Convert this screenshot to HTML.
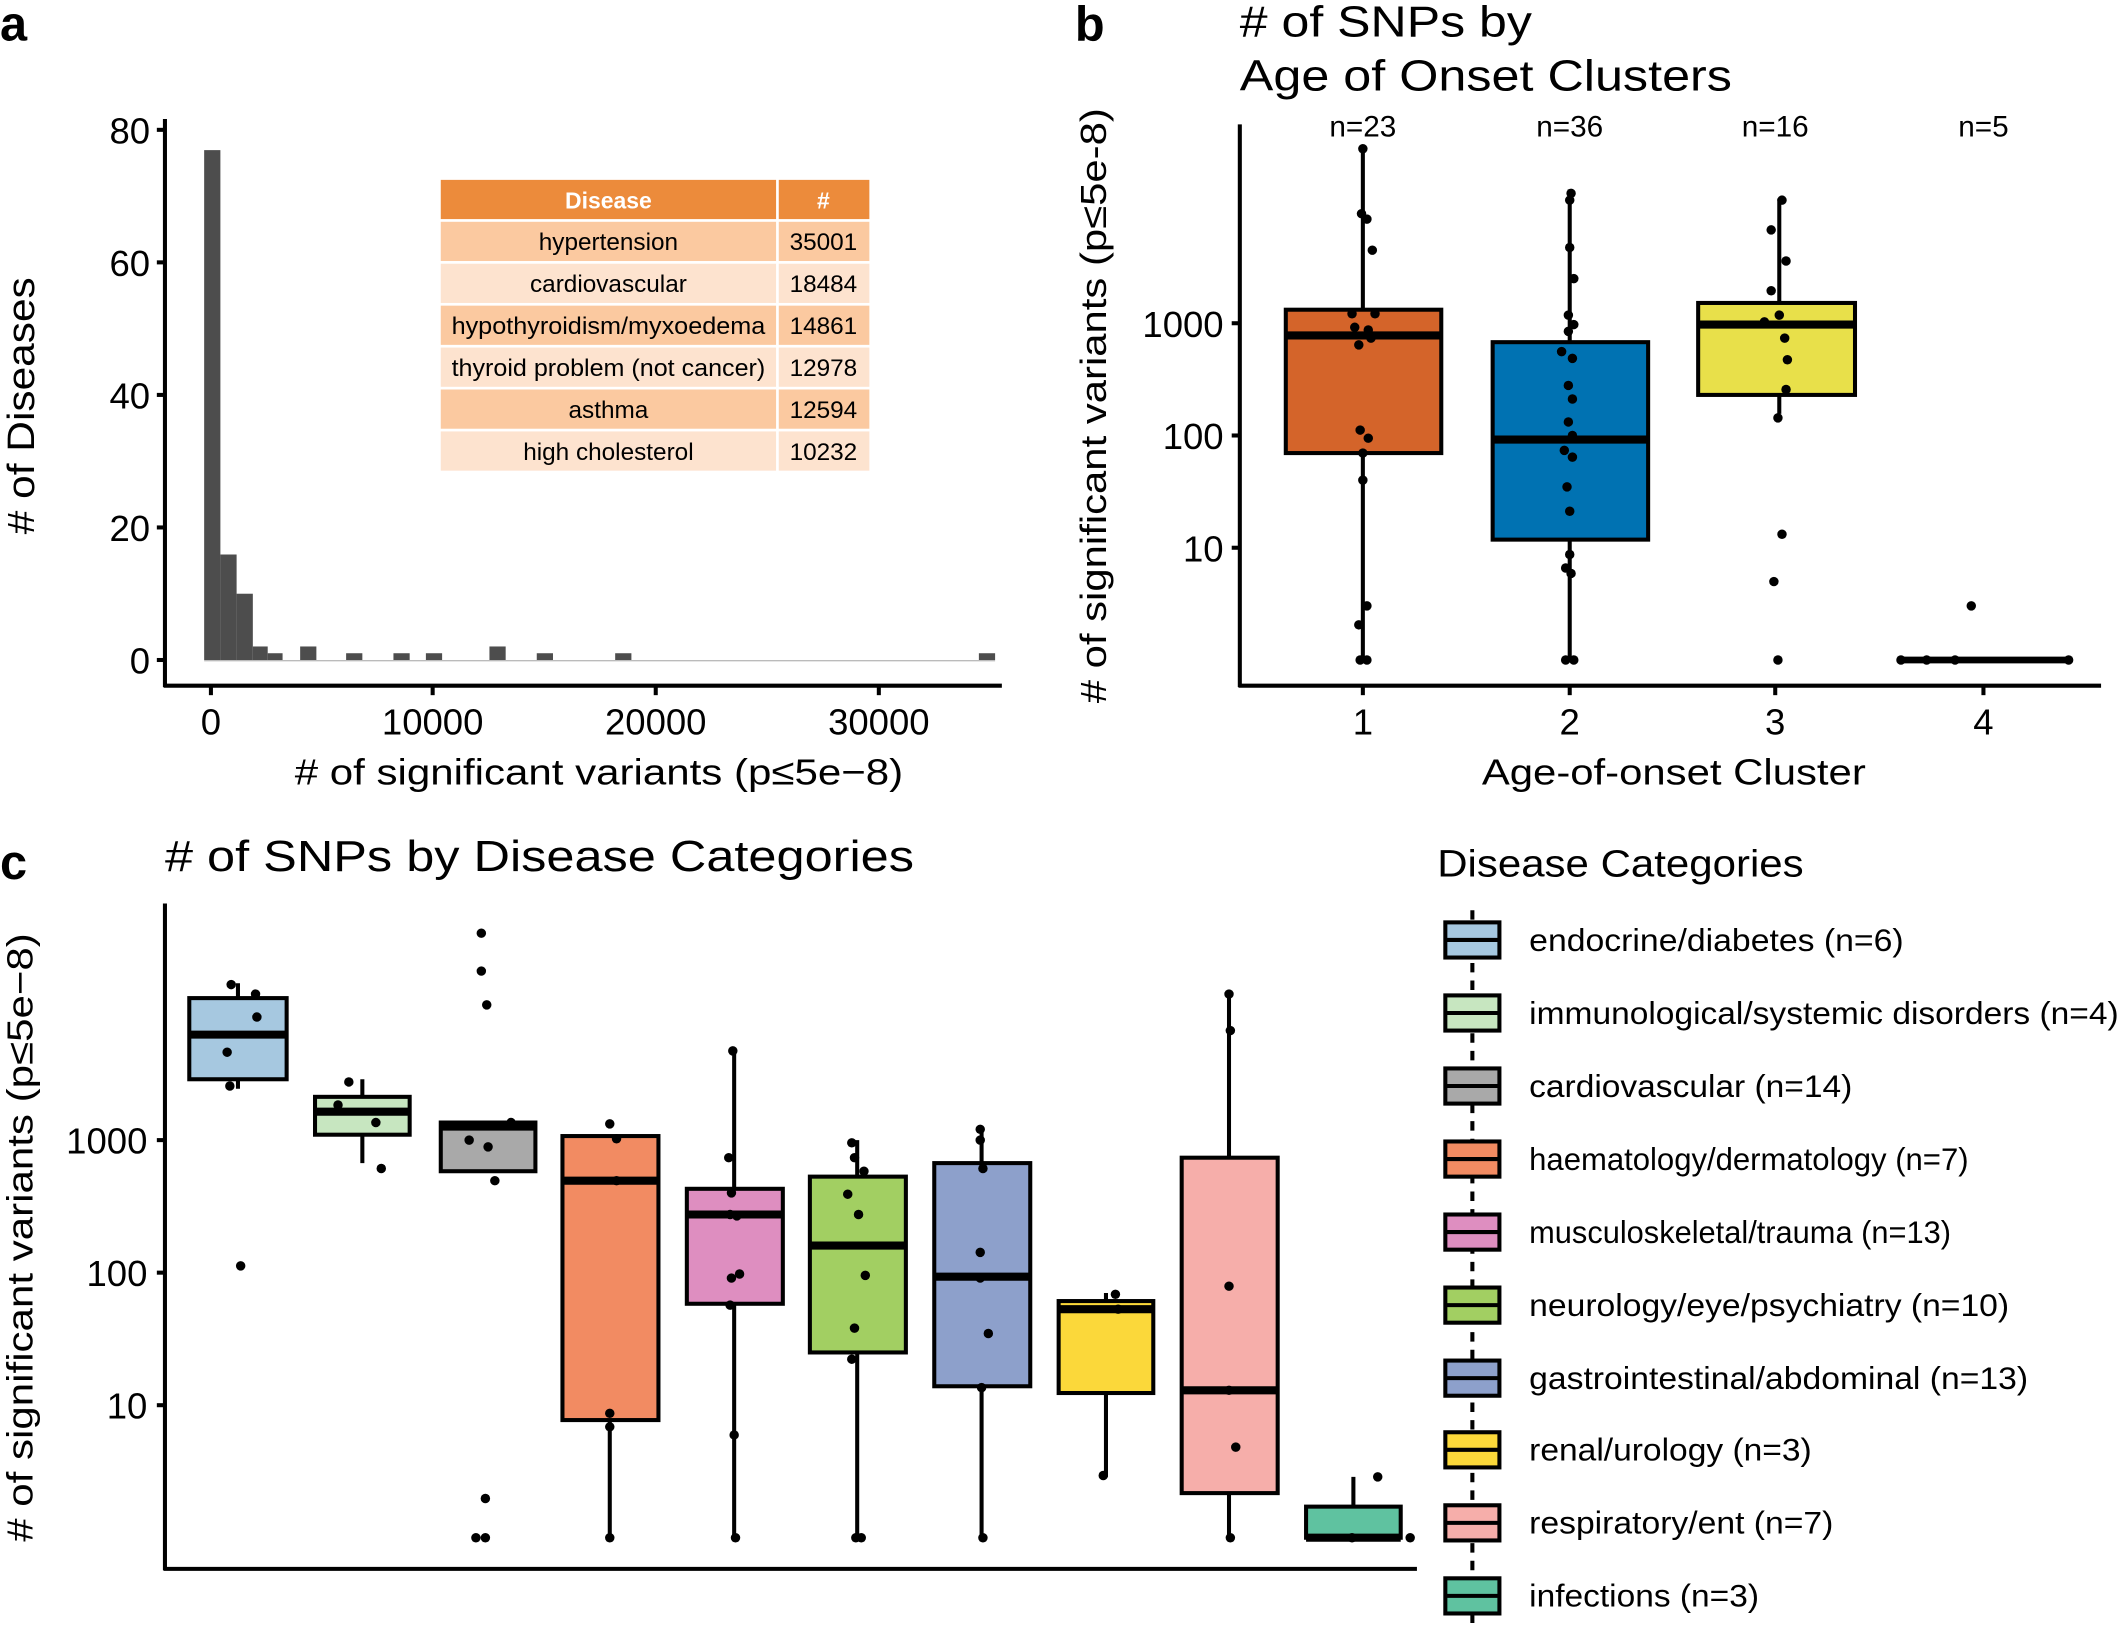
<!DOCTYPE html>
<html><head><meta charset="utf-8"><style>
html,body{margin:0;padding:0;background:#fff;}
svg{display:block;}
text{font-family:"Liberation Sans",sans-serif;fill:#000;}
</style></head><body>
<svg width="2120" height="1627" viewBox="0 0 1568 1203" preserveAspectRatio="none" xmlns="http://www.w3.org/2000/svg">
<rect width="1568" height="1203" fill="#fff"/>
<text x="0" y="30" font-size="36" font-weight="bold">a</text>
<text x="795" y="30" font-size="36" font-weight="bold">b</text>
<text x="0" y="650" font-size="36" font-weight="bold">c</text>

<!-- ===== Panel a ===== -->
<g fill="#4d4d4d">
<rect x="151" y="111" width="12" height="377"/>
<rect x="163" y="410" width="12" height="78"/>
<rect x="175" y="439" width="12" height="49"/>
<rect x="187" y="478" width="11" height="10"/>
<rect x="198" y="483" width="11" height="5"/>
<rect x="222" y="478" width="12" height="10"/>
<rect x="256" y="483" width="12" height="5"/>
<rect x="291" y="483" width="12" height="5"/>
<rect x="315" y="483" width="12" height="5"/>
<rect x="362" y="478" width="12" height="10"/>
<rect x="397" y="483" width="12" height="5"/>
<rect x="455" y="483" width="12" height="5"/>
<rect x="724" y="483" width="12" height="5"/>
</g>
<line x1="151" y1="488.5" x2="736" y2="488.5" stroke="#bbb" stroke-width="1"/>
<g stroke="#000" stroke-width="3" fill="none">
<line x1="122" y1="88" x2="122" y2="508"/>
<line x1="121" y1="507" x2="741" y2="507"/>
<line x1="116" y1="96" x2="122" y2="96"/>
<line x1="116" y1="194" x2="122" y2="194"/>
<line x1="116" y1="292" x2="122" y2="292"/>
<line x1="116" y1="390" x2="122" y2="390"/>
<line x1="116" y1="488" x2="122" y2="488"/>
<line x1="156" y1="507" x2="156" y2="514"/>
<line x1="320" y1="507" x2="320" y2="514"/>
<line x1="485" y1="507" x2="485" y2="514"/>
<line x1="650" y1="507" x2="650" y2="514"/>
</g>
<g font-size="27" text-anchor="end">
<text x="111" y="106">80</text><text x="111" y="204">60</text><text x="111" y="302">40</text><text x="111" y="400">20</text><text x="111" y="498">0</text>
</g>
<g font-size="27" text-anchor="middle">
<text x="156" y="543">0</text><text x="320" y="543">10000</text><text x="485" y="543">20000</text><text x="650" y="543">30000</text>
</g>
<text x="218" y="580" font-size="27" textLength="450" lengthAdjust="spacingAndGlyphs"># of significant variants (p≤5e−8)</text>
<text transform="translate(25,395) rotate(-90)" font-size="28" textLength="190" lengthAdjust="spacingAndGlyphs"># of Diseases</text>
<!-- table -->
<rect x="326" y="133" width="248" height="29" fill="#ec8b3b"/>
<rect x="576" y="133" width="67" height="29" fill="#ec8b3b"/>
<g font-size="17" text-anchor="middle">
<text x="450" y="154" style="fill:#fff" font-weight="bold">Disease</text>
<text x="609" y="154" style="fill:#fff" font-weight="bold">#</text>
</g>
<g>
<rect x="326" y="164" width="248" height="29" fill="#fbc9a0"/><rect x="576" y="164" width="67" height="29" fill="#fbc9a0"/>
<rect x="326" y="195" width="248" height="29" fill="#fde3cf"/><rect x="576" y="195" width="67" height="29" fill="#fde3cf"/>
<rect x="326" y="226" width="248" height="29" fill="#fbc9a0"/><rect x="576" y="226" width="67" height="29" fill="#fbc9a0"/>
<rect x="326" y="257" width="248" height="29" fill="#fde3cf"/><rect x="576" y="257" width="67" height="29" fill="#fde3cf"/>
<rect x="326" y="288" width="248" height="29" fill="#fbc9a0"/><rect x="576" y="288" width="67" height="29" fill="#fbc9a0"/>
<rect x="326" y="319" width="248" height="29" fill="#fde3cf"/><rect x="576" y="319" width="67" height="29" fill="#fde3cf"/>
</g>
<g font-size="18" text-anchor="middle">
<text x="450" y="185">hypertension</text><text x="609" y="185">35001</text>
<text x="450" y="216">cardiovascular</text><text x="609" y="216">18484</text>
<text x="450" y="247" textLength="232" lengthAdjust="spacingAndGlyphs">hypothyroidism/myxoedema</text><text x="609" y="247">14861</text>
<text x="450" y="278" textLength="232" lengthAdjust="spacingAndGlyphs">thyroid problem (not cancer)</text><text x="609" y="278">12978</text>
<text x="450" y="309">asthma</text><text x="609" y="309">12594</text>
<text x="450" y="340">high cholesterol</text><text x="609" y="340">10232</text>
</g>

<!-- ===== Panel b ===== -->
<text x="917" y="27" font-size="32" textLength="216" lengthAdjust="spacingAndGlyphs"># of SNPs by</text>
<text x="917" y="67" font-size="32" textLength="364" lengthAdjust="spacingAndGlyphs">Age of Onset Clusters</text>
<g font-size="22" text-anchor="middle">
<text x="1008" y="101">n=23</text><text x="1161" y="101">n=36</text><text x="1313" y="101">n=16</text><text x="1467" y="101">n=5</text>
</g>
<g stroke="#000" stroke-width="3">
<line x1="1008" y1="107" x2="1008" y2="488"/>
<line x1="1161" y1="140" x2="1161" y2="488"/>
<line x1="1316" y1="147" x2="1316" y2="306"/>
<rect x="951" y="229" width="115" height="106" fill="#d4642a"/>
<rect x="1104" y="253" width="115" height="146" fill="#0072b2"/>
<rect x="1256" y="224" width="116" height="68" fill="#e8e04a"/>
<line x1="951" y1="248" x2="1066" y2="248" stroke-width="6"/>
<line x1="1104" y1="325" x2="1219" y2="325" stroke-width="6"/>
<line x1="1256" y1="240" x2="1372" y2="240" stroke-width="6"/>
<line x1="1406" y1="488" x2="1530" y2="488" stroke-width="5"/>
</g>
<g fill="#000">
<circle cx="1008" cy="110" r="3.5"/><circle cx="1007" cy="158" r="3.5"/><circle cx="1011" cy="162" r="3.5"/><circle cx="1015" cy="185" r="3.5"/>
<circle cx="1000" cy="232" r="3.5"/><circle cx="1017" cy="232" r="3.5"/><circle cx="1002" cy="242" r="3.5"/><circle cx="1012" cy="244" r="3.5"/><circle cx="1005" cy="255" r="3.5"/><circle cx="1014" cy="250" r="3.5"/>
<circle cx="1006" cy="318" r="3.5"/><circle cx="1012" cy="324" r="3.5"/><circle cx="1008" cy="335" r="3.5"/><circle cx="1008" cy="355" r="3.5"/><circle cx="1011" cy="448" r="3.5"/><circle cx="1005" cy="462" r="3.5"/><circle cx="1006" cy="488" r="3.5"/><circle cx="1011" cy="488" r="3.5"/>
<circle cx="1162" cy="143" r="3.5"/><circle cx="1161" cy="148" r="3.5"/><circle cx="1161" cy="183" r="3.5"/><circle cx="1164" cy="206" r="3.5"/><circle cx="1160" cy="233" r="3.5"/><circle cx="1164" cy="240" r="3.5"/><circle cx="1160" cy="245" r="3.5"/>
<circle cx="1155" cy="260" r="3.5"/><circle cx="1163" cy="265" r="3.5"/><circle cx="1160" cy="285" r="3.5"/><circle cx="1163" cy="295" r="3.5"/><circle cx="1160" cy="312" r="3.5"/><circle cx="1163" cy="322" r="3.5"/><circle cx="1157" cy="333" r="3.5"/><circle cx="1163" cy="338" r="3.5"/><circle cx="1159" cy="360" r="3.5"/><circle cx="1161" cy="378" r="3.5"/><circle cx="1161" cy="410" r="3.5"/><circle cx="1158" cy="420" r="3.5"/><circle cx="1162" cy="424" r="3.5"/><circle cx="1158" cy="488" r="3.5"/><circle cx="1164" cy="488" r="3.5"/>
<circle cx="1318" cy="148" r="3.5"/><circle cx="1310" cy="170" r="3.5"/><circle cx="1321" cy="193" r="3.5"/><circle cx="1310" cy="215" r="3.5"/><circle cx="1316" cy="233" r="3.5"/><circle cx="1305" cy="238" r="3.5"/><circle cx="1320" cy="250" r="3.5"/><circle cx="1322" cy="266" r="3.5"/><circle cx="1321" cy="288" r="3.5"/><circle cx="1315" cy="309" r="3.5"/><circle cx="1318" cy="395" r="3.5"/><circle cx="1312" cy="430" r="3.5"/><circle cx="1315" cy="488" r="3.5"/>
<circle cx="1458" cy="448" r="3.5"/><circle cx="1406" cy="488" r="3.5"/><circle cx="1530" cy="488" r="3.5"/><circle cx="1425" cy="488" r="3.5"/><circle cx="1446" cy="488" r="3.5"/>
</g>
<g stroke="#000" stroke-width="3" fill="none">
<line x1="917" y1="92" x2="917" y2="508"/>
<line x1="916" y1="507" x2="1554" y2="507"/>
<line x1="911" y1="239" x2="917" y2="239"/><line x1="911" y1="322" x2="917" y2="322"/><line x1="911" y1="405" x2="917" y2="405"/>
<line x1="1008" y1="507" x2="1008" y2="514"/><line x1="1161" y1="507" x2="1161" y2="514"/><line x1="1313" y1="507" x2="1313" y2="514"/><line x1="1467" y1="507" x2="1467" y2="514"/>
</g>
<g font-size="27" text-anchor="end">
<text x="905" y="249">1000</text><text x="905" y="332">100</text><text x="905" y="415">10</text>
</g>
<g font-size="27" text-anchor="middle">
<text x="1008" y="543">1</text><text x="1161" y="543">2</text><text x="1313" y="543">3</text><text x="1467" y="543">4</text>
</g>
<text x="1096" y="580" font-size="27" textLength="284" lengthAdjust="spacingAndGlyphs">Age-of-onset Cluster</text>
<text transform="translate(818,520) rotate(-90)" font-size="27" textLength="440" lengthAdjust="spacingAndGlyphs"># of significant variants (p≤5e-8)</text>

<!-- ===== Panel c ===== -->
<text x="122" y="644" font-size="32" textLength="554" lengthAdjust="spacingAndGlyphs"># of SNPs by Disease Categories</text>
<g stroke="#000" stroke-width="3">
<line x1="176" y1="727" x2="176" y2="805"/>
<line x1="268" y1="798" x2="268" y2="860"/>
<line x1="451" y1="840" x2="451" y2="1137"/>
<line x1="543" y1="776" x2="543" y2="1137"/>
<line x1="634" y1="843" x2="634" y2="1137"/>
<line x1="726" y1="833" x2="726" y2="1137"/>
<line x1="818" y1="956" x2="818" y2="1092"/>
<line x1="909" y1="733" x2="909" y2="1137"/>
<line x1="1001" y1="1092" x2="1001" y2="1137"/>
<rect x="140" y="738" width="72" height="60" fill="#a6c8e0"/>
<rect x="233" y="811" width="70" height="28" fill="#c7e6c0"/>
<rect x="326" y="830" width="70" height="36" fill="#a9a9a9"/>
<rect x="416" y="840" width="71" height="210" fill="#f28b62"/>
<rect x="508" y="879" width="71" height="85" fill="#de8ec0"/>
<rect x="599" y="870" width="71" height="130" fill="#a2cf62"/>
<rect x="691" y="860" width="71" height="165" fill="#8da0cb"/>
<rect x="783" y="962" width="70" height="68" fill="#fbd83a"/>
<rect x="874" y="856" width="71" height="248" fill="#f6aeaa"/>
<rect x="966" y="1114" width="70" height="23" fill="#5fc2a0"/>
<g stroke-width="6">
<line x1="140" y1="765" x2="212" y2="765"/>
<line x1="233" y1="822" x2="303" y2="822"/>
<line x1="326" y1="833" x2="396" y2="833"/>
<line x1="416" y1="873" x2="487" y2="873"/>
<line x1="508" y1="898" x2="579" y2="898"/>
<line x1="599" y1="921" x2="670" y2="921"/>
<line x1="691" y1="944" x2="762" y2="944"/>
<line x1="783" y1="968" x2="853" y2="968"/>
<line x1="874" y1="1028" x2="945" y2="1028"/>
<line x1="966" y1="1137" x2="1036" y2="1137"/>
</g>
</g>
<g fill="#000">
<circle cx="171" cy="728" r="3.5"/><circle cx="189" cy="735" r="3.5"/><circle cx="190" cy="752" r="3.5"/><circle cx="168" cy="778" r="3.5"/><circle cx="170" cy="803" r="3.5"/><circle cx="178" cy="936" r="3.5"/>
<circle cx="258" cy="800" r="3.5"/><circle cx="250" cy="817" r="3.5"/><circle cx="278" cy="830" r="3.5"/><circle cx="282" cy="864" r="3.5"/>
<circle cx="356" cy="690" r="3.5"/><circle cx="356" cy="718" r="3.5"/><circle cx="360" cy="743" r="3.5"/><circle cx="352" cy="832" r="3.5"/><circle cx="367" cy="832" r="3.5"/><circle cx="378" cy="830" r="3.5"/><circle cx="347" cy="843" r="3.5"/><circle cx="361" cy="848" r="3.5"/><circle cx="366" cy="873" r="3.5"/><circle cx="359" cy="1108" r="3.5"/><circle cx="352" cy="1137" r="3.5"/><circle cx="359" cy="1137" r="3.5"/>
<circle cx="451" cy="831" r="3.5"/><circle cx="456" cy="842" r="3.5"/><circle cx="456" cy="873" r="3.5"/><circle cx="451" cy="1045" r="3.5"/><circle cx="451" cy="1055" r="3.5"/><circle cx="451" cy="1137" r="3.5"/>
<circle cx="542" cy="777" r="3.5"/><circle cx="539" cy="856" r="3.5"/><circle cx="541" cy="882" r="3.5"/><circle cx="540" cy="898" r="3.5"/><circle cx="545" cy="899" r="3.5"/><circle cx="541" cy="945" r="3.5"/><circle cx="547" cy="942" r="3.5"/><circle cx="540" cy="965" r="3.5"/><circle cx="543" cy="1061" r="3.5"/><circle cx="544" cy="1137" r="3.5"/>
<circle cx="630" cy="845" r="3.5"/><circle cx="632" cy="856" r="3.5"/><circle cx="639" cy="866" r="3.5"/><circle cx="627" cy="883" r="3.5"/><circle cx="635" cy="898" r="3.5"/><circle cx="640" cy="943" r="3.5"/><circle cx="632" cy="982" r="3.5"/><circle cx="630" cy="1005" r="3.5"/><circle cx="633" cy="1137" r="3.5"/><circle cx="637" cy="1137" r="3.5"/>
<circle cx="725" cy="835" r="3.5"/><circle cx="725" cy="843" r="3.5"/><circle cx="727" cy="864" r="3.5"/><circle cx="725" cy="926" r="3.5"/><circle cx="725" cy="945" r="3.5"/><circle cx="731" cy="986" r="3.5"/><circle cx="726" cy="1026" r="3.5"/><circle cx="727" cy="1137" r="3.5"/>
<circle cx="825" cy="957" r="3.5"/><circle cx="827" cy="968" r="3.5"/><circle cx="816" cy="1091" r="3.5"/>
<circle cx="909" cy="735" r="3.5"/><circle cx="910" cy="762" r="3.5"/><circle cx="909" cy="951" r="3.5"/><circle cx="909" cy="1028" r="3.5"/><circle cx="914" cy="1070" r="3.5"/><circle cx="910" cy="1137" r="3.5"/>
<circle cx="1019" cy="1092" r="3.5"/><circle cx="1000" cy="1137" r="3.5"/><circle cx="1043" cy="1137" r="3.5"/>
</g>
<g stroke="#000" stroke-width="3" fill="none">
<line x1="122" y1="668" x2="122" y2="1161"/>
<line x1="121" y1="1160" x2="1048" y2="1160"/>
<line x1="116" y1="843" x2="122" y2="843"/><line x1="116" y1="941" x2="122" y2="941"/><line x1="116" y1="1039" x2="122" y2="1039"/>
</g>
<g font-size="27" text-anchor="end">
<text x="109" y="853">1000</text><text x="109" y="951">100</text><text x="109" y="1049">10</text>
</g>
<text transform="translate(24,1140) rotate(-90)" font-size="27" textLength="450" lengthAdjust="spacingAndGlyphs"># of significant variants (p≤5e−8)</text>

<!-- legend -->
<text x="1063" y="648" font-size="28" textLength="271" lengthAdjust="spacingAndGlyphs">Disease Categories</text>
<line x1="1089" y1="673" x2="1089" y2="1200" stroke="#000" stroke-width="3" stroke-dasharray="7,6"/>
<g stroke="#000" stroke-width="3">
<rect x="1069" y="682" width="40" height="26" fill="#a6c8e0"/>
<rect x="1069" y="736" width="40" height="26" fill="#c7e6c0"/>
<rect x="1069" y="790" width="40" height="26" fill="#a9a9a9"/>
<rect x="1069" y="844" width="40" height="26" fill="#f28b62"/>
<rect x="1069" y="898" width="40" height="26" fill="#de8ec0"/>
<rect x="1069" y="952" width="40" height="26" fill="#a2cf62"/>
<rect x="1069" y="1006" width="40" height="26" fill="#8da0cb"/>
<rect x="1069" y="1059" width="40" height="26" fill="#fbd83a"/>
<rect x="1069" y="1113" width="40" height="26" fill="#f6aeaa"/>
<rect x="1069" y="1167" width="40" height="26" fill="#5fc2a0"/>
<line x1="1069" y1="695" x2="1109" y2="695"/>
<line x1="1069" y1="749" x2="1109" y2="749"/>
<line x1="1069" y1="803" x2="1109" y2="803"/>
<line x1="1069" y1="857" x2="1109" y2="857"/>
<line x1="1069" y1="911" x2="1109" y2="911"/>
<line x1="1069" y1="965" x2="1109" y2="965"/>
<line x1="1069" y1="1019" x2="1109" y2="1019"/>
<line x1="1069" y1="1072" x2="1109" y2="1072"/>
<line x1="1069" y1="1126" x2="1109" y2="1126"/>
<line x1="1069" y1="1180" x2="1109" y2="1180"/>
</g>
<g font-size="23">
<text x="1131" y="703" textLength="277" lengthAdjust="spacingAndGlyphs">endocrine/diabetes (n=6)</text>
<text x="1131" y="757" textLength="436" lengthAdjust="spacingAndGlyphs">immunological/systemic disorders (n=4)</text>
<text x="1131" y="811" textLength="239" lengthAdjust="spacingAndGlyphs">cardiovascular (n=14)</text>
<text x="1131" y="865" textLength="325" lengthAdjust="spacingAndGlyphs">haematology/dermatology (n=7)</text>
<text x="1131" y="919" textLength="312" lengthAdjust="spacingAndGlyphs">musculoskeletal/trauma (n=13)</text>
<text x="1131" y="973" textLength="355" lengthAdjust="spacingAndGlyphs">neurology/eye/psychiatry (n=10)</text>
<text x="1131" y="1027" textLength="369" lengthAdjust="spacingAndGlyphs">gastrointestinal/abdominal (n=13)</text>
<text x="1131" y="1080" textLength="209" lengthAdjust="spacingAndGlyphs">renal/urology (n=3)</text>
<text x="1131" y="1134" textLength="225" lengthAdjust="spacingAndGlyphs">respiratory/ent (n=7)</text>
<text x="1131" y="1188" textLength="170" lengthAdjust="spacingAndGlyphs">infections (n=3)</text>
</g>
</svg>
</body></html>
